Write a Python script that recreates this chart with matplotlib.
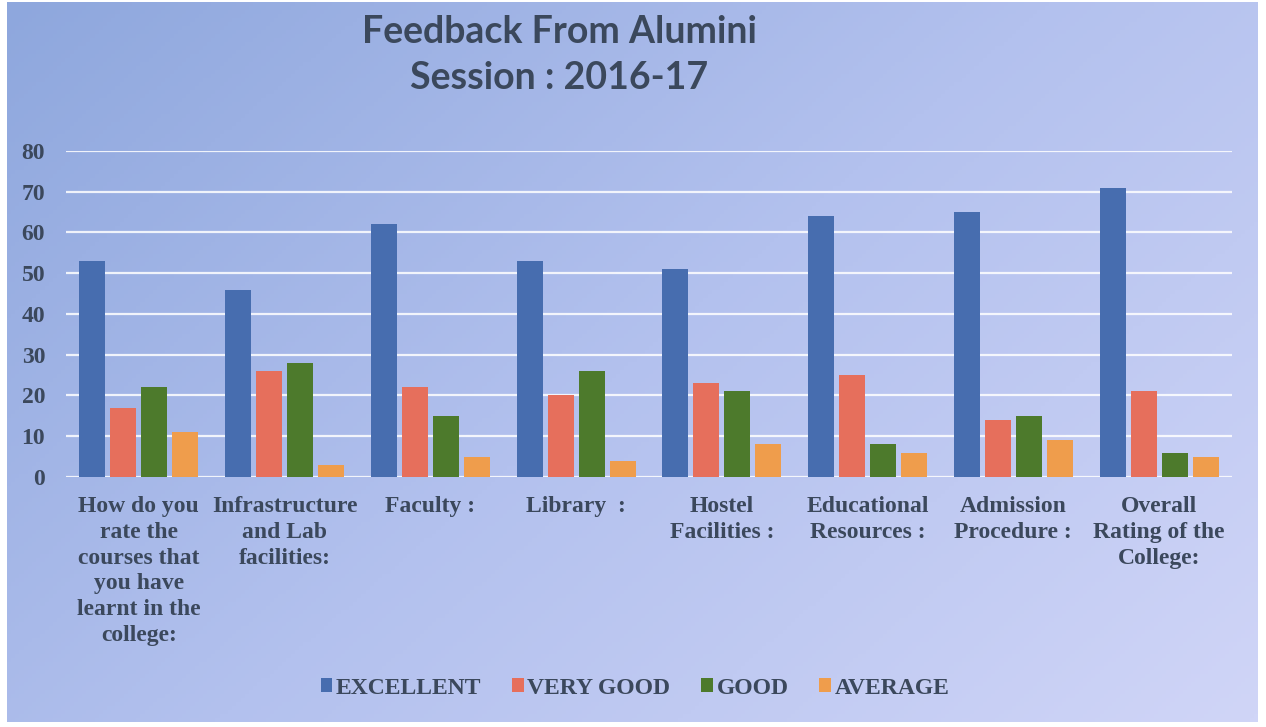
import numpy as np
import matplotlib
matplotlib.use("Agg")
import matplotlib.pyplot as plt
from matplotlib.colors import LinearSegmentedColormap

categories = [
    "How do you\nrate the\ncourses that\nyou have\nlearnt in the\ncollege:",
    "Infrastructure\nand Lab\nfacilities:",
    "Faculty :",
    "Library  :",
    "Hostel\nFacilities :",
    "Educational\nResources :",
    "Admission\nProcedure :",
    "Overall\nRating of the\nCollege:",
]
series_names = ["EXCELLENT", "VERY GOOD", "GOOD", "AVERAGE"]
excellent = [53, 46, 62, 53, 51, 64, 65, 71]
very_good = [17, 26, 22, 20, 23, 25, 14, 21]
good = [22, 28, 15, 26, 21, 8, 15, 6]
average = [11, 3, 5, 4, 8, 6, 9, 5]
yticks = [0, 10, 20, 30, 40, 50, 60, 70, 80]

colors = ["#476daf", "#e66f5c", "#4d7a2c", "#ef9d4c"]
text_color = "#3b485c"

W, H = 1266, 727
fig = plt.figure(figsize=(W / 100, H / 100), dpi=100)
fig.patch.set_facecolor("white")

# gradient background panel
bg = fig.add_axes([7 / W, 5 / H, 1251 / W, 720 / H])
bg.set_axis_off()
nx, ny = 300, 180
xx, yy = np.meshgrid(np.linspace(0, 1, nx), np.linspace(0, 1, ny))
t = (xx * 0.6 + yy * 0.4)
cmap = LinearSegmentedColormap.from_list("bg", ["#8ea7dd", "#b3c1ee", "#d0d5f7"])
bg.imshow(t, cmap=cmap, aspect="auto", extent=[0, 1, 0, 1], origin="upper")
bg.set_xlim(0, 1)
bg.set_ylim(0, 1)

ax = fig.add_axes([66 / W, (H - 477) / H, 1166 / W, 326 / H])
ax.set_facecolor("none")
x = np.arange(len(categories))
step = 0.213
bw = 0.178
data = [excellent, very_good, good, average]
for i, (name, vals, c) in enumerate(zip(series_names, data, colors)):
    ax.bar(x + (i - 1.5) * step, vals, width=bw, color=c, label=name, zorder=3)

ax.set_xlim(-0.5, len(categories) - 0.5)
ax.set_ylim(0, 80)
ax.set_yticks(yticks)
ax.yaxis.grid(True, color="white", linewidth=1.6, alpha=0.85, zorder=1)
ax.set_axisbelow(True)
for s in ax.spines.values():
    s.set_visible(False)
ax.tick_params(length=0)
ax.set_xticks(x)
ax.set_xticklabels(categories, fontfamily="Liberation Serif", fontweight="bold",
                   fontsize=17, color=text_color, linespacing=1.29, va="top")
ax.tick_params(axis="x", pad=14)
ax.tick_params(axis="y", pad=15)
for lab in ax.get_yticklabels():
    lab.set_fontfamily("Liberation Serif")
    lab.set_fontweight("bold")
    lab.set_fontsize(17)
    lab.set_color(text_color)

fig.text(559 / W, 1 - 32 / H, "Feedback From Alumini", ha="center", va="center",
         fontfamily="Lato", fontweight="bold", fontsize=27, color=text_color)
fig.text(559 / W, 1 - 78 / H, "Session : 2016-17", ha="center", va="center",
         fontfamily="Lato", fontweight="bold", fontsize=27, color=text_color)

leg = fig.legend(loc="center", bbox_to_anchor=(635 / W, 1 - 688 / H), ncol=4,
                 frameon=False, handlelength=0.5, handleheight=0.5,
                 handletextpad=0.15, columnspacing=1.3,
                 prop={"family": "Liberation Serif", "weight": "bold", "size": 17})
for t_ in leg.get_texts():
    t_.set_color(text_color)

fig.savefig("out.png", dpi=100)
